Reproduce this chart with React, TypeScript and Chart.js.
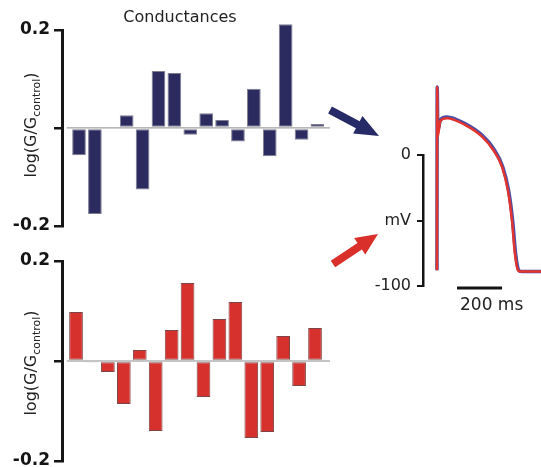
import React, { useEffect, useRef } from 'react';
import { Chart, registerables } from 'chart.js';
Chart.register(...registerables);

// ---- data ----
const channels = [0, 1, 2, 3, 4, 5, 6, 7, 8, 9, 10, 11, 12, 13, 14, 15];
const blueLogG = [-0.056, -0.176, 0, 0.026, -0.126, 0.116, 0.112, -0.014, 0.03, 0.016, -0.028, 0.08, -0.058, 0.212, -0.024, 0.008];
const redLogG = [0.098, -0.002, -0.022, -0.086, 0.022, -0.14, 0.062, 0.156, -0.072, 0.084, 0.118, -0.154, -0.142, 0.05, -0.05, 0.066];
const barTicks = [-0.2, 0, 0.2];

const apTimeRed = [0, 1, 3, 15, 44, 124, 200, 249, 289, 315, 333, 346, 360, 372, 470];
const apVRed = [-88, 52, 14, 26, 28, 23, 14, 4, -9, -27, -50, -75, -88, -89, -89];
const apTimeBlue = [0, 1, 4, 16, 44, 124, 201, 251, 292, 318, 336, 349, 363, 375, 470];
const apVBlue = [-88, 52, 19, 27, 29, 24, 15, 5, -9, -27, -50, -75, -88, -89, -89];
const apTicks = [0, -50, -100];
const apTickLabels: Record<string, string> = { '0': '0', '-50': 'mV', '-100': '-100' };
const scaleBarStartMs = 89;
const scaleBarMs = 200;

const FONT = 'DejaVu Sans';
const INK = '#151515';

function yTitlePlugin(centerPx: number) {
  return {
    id: 'ytitle',
    afterDraw(chart: any) {
      const ctx = chart.ctx;
      ctx.save();
      ctx.fillStyle = '#222';
      ctx.translate(36, centerPx);
      ctx.rotate(-Math.PI / 2);
      ctx.textBaseline = 'alphabetic';
      ctx.textAlign = 'left';
      const main = 'log(G/G';
      const sub = 'control';
      const end = ')';
      ctx.font = `16px "${FONT}"`;
      const w1 = ctx.measureText(main).width;
      const w3 = ctx.measureText(end).width;
      ctx.font = `11px "${FONT}"`;
      const w2 = ctx.measureText(sub).width;
      const total = w1 + w2 + w3;
      let x = -total / 2;
      ctx.font = `16px "${FONT}"`;
      ctx.fillText(main, x, 0);
      x += w1;
      ctx.font = `11px "${FONT}"`;
      ctx.fillText(sub, x, 4);
      x += w2;
      ctx.font = `16px "${FONT}"`;
      ctx.fillText(end, x, 0);
      ctx.restore();
    },
  };
}

function zeroLinePlugin(startVal: number) {
  return {
    id: 'zeroline',
    beforeDatasetsDraw(chart: any) {
      const { ctx, chartArea } = chart;
      const xs = chart.scales.x;
      const ys = chart.scales.y;
      const y0 = ys.getPixelForValue(0);
      ctx.save();
      ctx.strokeStyle = '#8a8a8a';
      ctx.lineWidth = 1;
      ctx.beginPath();
      ctx.moveTo(xs.getPixelForValue(startVal), y0);
      ctx.lineTo(chartArea.right, y0);
      ctx.stroke();
      ctx.restore();
    },
  };
}

const titlePlugin = {
  id: 'condTitle',
  afterDraw(chart: any) {
    const ctx = chart.ctx;
    ctx.save();
    ctx.fillStyle = '#222';
    ctx.font = `16px "${FONT}"`;
    ctx.textAlign = 'center';
    ctx.textBaseline = 'middle';
    ctx.fillText('Conductances', 180, 18);
    ctx.restore();
  },
};

function barConfig(values: number[], color: string, border: string, xmin: number, xmax: number, padTop: number, padBottom: number, extraPlugins: any[]) {
  return {
    type: 'bar' as const,
    data: {
      datasets: [
        {
          data: channels.map((c, i) => ({ x: c, y: values[i] })),
          backgroundColor: color,
          borderColor: border,
          borderWidth: 1,
          borderSkipped: false,
          barPercentage: 0.86,
          categoryPercentage: 1,
          clip: false,
        },
      ],
    },
    options: {
      animation: false,
      responsive: false,
      devicePixelRatio: 1,
      layout: { padding: { top: padTop, bottom: padBottom, left: 0, right: 5 } },
      plugins: { legend: { display: false }, tooltip: { enabled: false }, title: { display: false } },
      scales: {
        x: {
          type: 'linear',
          min: xmin,
          max: xmax,
          offset: false,
          display: false,
          afterBuildTicks: (s: any) => {
            s.ticks = channels.map((v) => ({ value: v }));
          },
        },
        y: {
          min: -0.2,
          max: 0.2,
          afterBuildTicks: (s: any) => {
            s.ticks = barTicks.map((v) => ({ value: v }));
          },
          afterFit: (s: any) => {
            s.width = 62;
          },
          grid: { drawOnChartArea: false, drawTicks: true, tickLength: 8, tickColor: INK, tickWidth: 2.5, color: INK, lineWidth: 2.5 },
          border: { display: true, color: INK, width: 3 },
          ticks: {
            color: INK,
            padding: 4,
            font: { family: FONT, size: 17, weight: 'bold' },
            callback: (v: any) => (Math.abs(Number(v)) < 1e-9 ? '' : Number(v).toFixed(1)),
          },
        },
      },
    },
    plugins: [zeroLinePlugin(xmin + 0.3), ...extraPlugins],
  };
}

function drawArrow(ctx: CanvasRenderingContext2D, tx: number, ty: number, hx: number, hy: number, sh: number, hh: number, hl: number, color: string) {
  const dx = hx - tx;
  const dy = hy - ty;
  const len = Math.hypot(dx, dy);
  const ux = dx / len;
  const uy = dy / len;
  const nx = -uy;
  const ny = ux;
  const bx = hx - ux * hl;
  const by = hy - uy * hl;
  ctx.save();
  ctx.fillStyle = color;
  ctx.beginPath();
  ctx.moveTo(tx + nx * sh, ty + ny * sh);
  ctx.lineTo(bx + nx * sh, by + ny * sh);
  ctx.lineTo(bx + nx * hh, by + ny * hh);
  ctx.lineTo(hx, hy);
  ctx.lineTo(bx - nx * hh, by - ny * hh);
  ctx.lineTo(bx - nx * sh, by - ny * sh);
  ctx.lineTo(tx - nx * sh, ty - ny * sh);
  ctx.closePath();
  ctx.fill();
  ctx.restore();
}

const apDecor = {
  id: 'apDecor',
  afterDraw(chart: any) {
    const { ctx, chartArea } = chart;
    const xs = chart.scales.x;
    // scale bar
    const x1 = xs.getPixelForValue(scaleBarStartMs);
    const x2 = xs.getPixelForValue(scaleBarStartMs + scaleBarMs);
    const yb = chartArea.bottom + 2;
    ctx.save();
    ctx.strokeStyle = INK;
    ctx.lineWidth = 3;
    ctx.beginPath();
    ctx.moveTo(x1, yb);
    ctx.lineTo(x2, yb);
    ctx.stroke();
    ctx.fillStyle = '#222';
    ctx.font = `17px "${FONT}"`;
    ctx.textAlign = 'left';
    ctx.textBaseline = 'middle';
    ctx.fillText(`${scaleBarMs} ms`, x1 + 3, yb + 18);
    ctx.restore();
    // arrows (canvas origin at page 320,60)
    drawArrow(ctx, 10, 50, 59, 76, 4, 10, 24, '#262a66');
    drawArrow(ctx, 13, 204, 58, 174, 4, 10, 22, '#d9302c');
  },
};

const apConfig: any = {
  type: 'line',
  data: {
    datasets: [
      {
        data: apTimeRed.map((t, i) => ({ x: t, y: apVRed[i] })),
        borderColor: '#e3342e',
        borderWidth: 2.5,
        pointRadius: 0,
        cubicInterpolationMode: 'monotone',
        clip: false,
      },
      {
        data: apTimeBlue.map((t, i) => ({ x: t, y: apVBlue[i] })),
        borderColor: '#4a4ea6',
        borderWidth: 3.5,
        pointRadius: 0,
        cubicInterpolationMode: 'monotone',
        clip: false,
      },
    ],
  },
  options: {
    animation: false,
    responsive: false,
    devicePixelRatio: 1,
    layout: { padding: { top: 95, bottom: 44, left: 0, right: 0 } },
    plugins: { legend: { display: false }, tooltip: { enabled: false } },
    scales: {
      x: { type: 'linear', min: -62, max: 462, display: false },
      y: {
        min: -100,
        max: 0,
        afterBuildTicks: (s: any) => {
          s.ticks = apTicks.map((v) => ({ value: v }));
        },
        afterFit: (s: any) => {
          s.width = 103;
        },
        grid: { drawOnChartArea: false, drawTicks: true, tickLength: 6, tickColor: INK, tickWidth: 2, color: INK, lineWidth: 2 },
        border: { display: true, color: INK, width: 2.5 },
        ticks: {
          color: '#222',
          padding: 6,
          font: { family: FONT, size: 16 },
          callback: (v: any) => apTickLabels[String(Math.round(Number(v)))] ?? '',
        },
      },
    },
  },
  plugins: [apDecor],
};

export default function App() {
  const topRef = useRef<HTMLCanvasElement>(null);
  const botRef = useRef<HTMLCanvasElement>(null);
  const apRef = useRef<HTMLCanvasElement>(null);

  useEffect(() => {
    const charts: Chart[] = [];
    charts.push(
      new Chart(
        topRef.current!,
        barConfig(blueLogG, '#2b2b60', '#7e7e90', -1.07, 15.79, 30, 11, [yTitlePlugin(125), titlePlugin]) as any
      )
    );
    charts.push(
      new Chart(
        botRef.current!,
        barConfig(redLogG, '#d7312e', '#7c4646', -0.88, 15.94, 21, 19, [yTitlePlugin(123)]) as any
      )
    );
    charts.push(new Chart(apRef.current!, apConfig));
    return () => charts.forEach((c) => c.destroy());
  }, []);

  return (
    <div style={{ position: 'fixed', left: 0, top: 0, width: 541, height: 467, background: '#fff', overflow: 'hidden' }}>
      <canvas ref={topRef} width={335} height={240} style={{ position: 'absolute', left: 0, top: 0 }} />
      <canvas ref={botRef} width={335} height={240} style={{ position: 'absolute', left: 0, top: 240 }} />
      <canvas ref={apRef} width={221} height={270} style={{ position: 'absolute', left: 320, top: 60 }} />
    </div>
  );
}
